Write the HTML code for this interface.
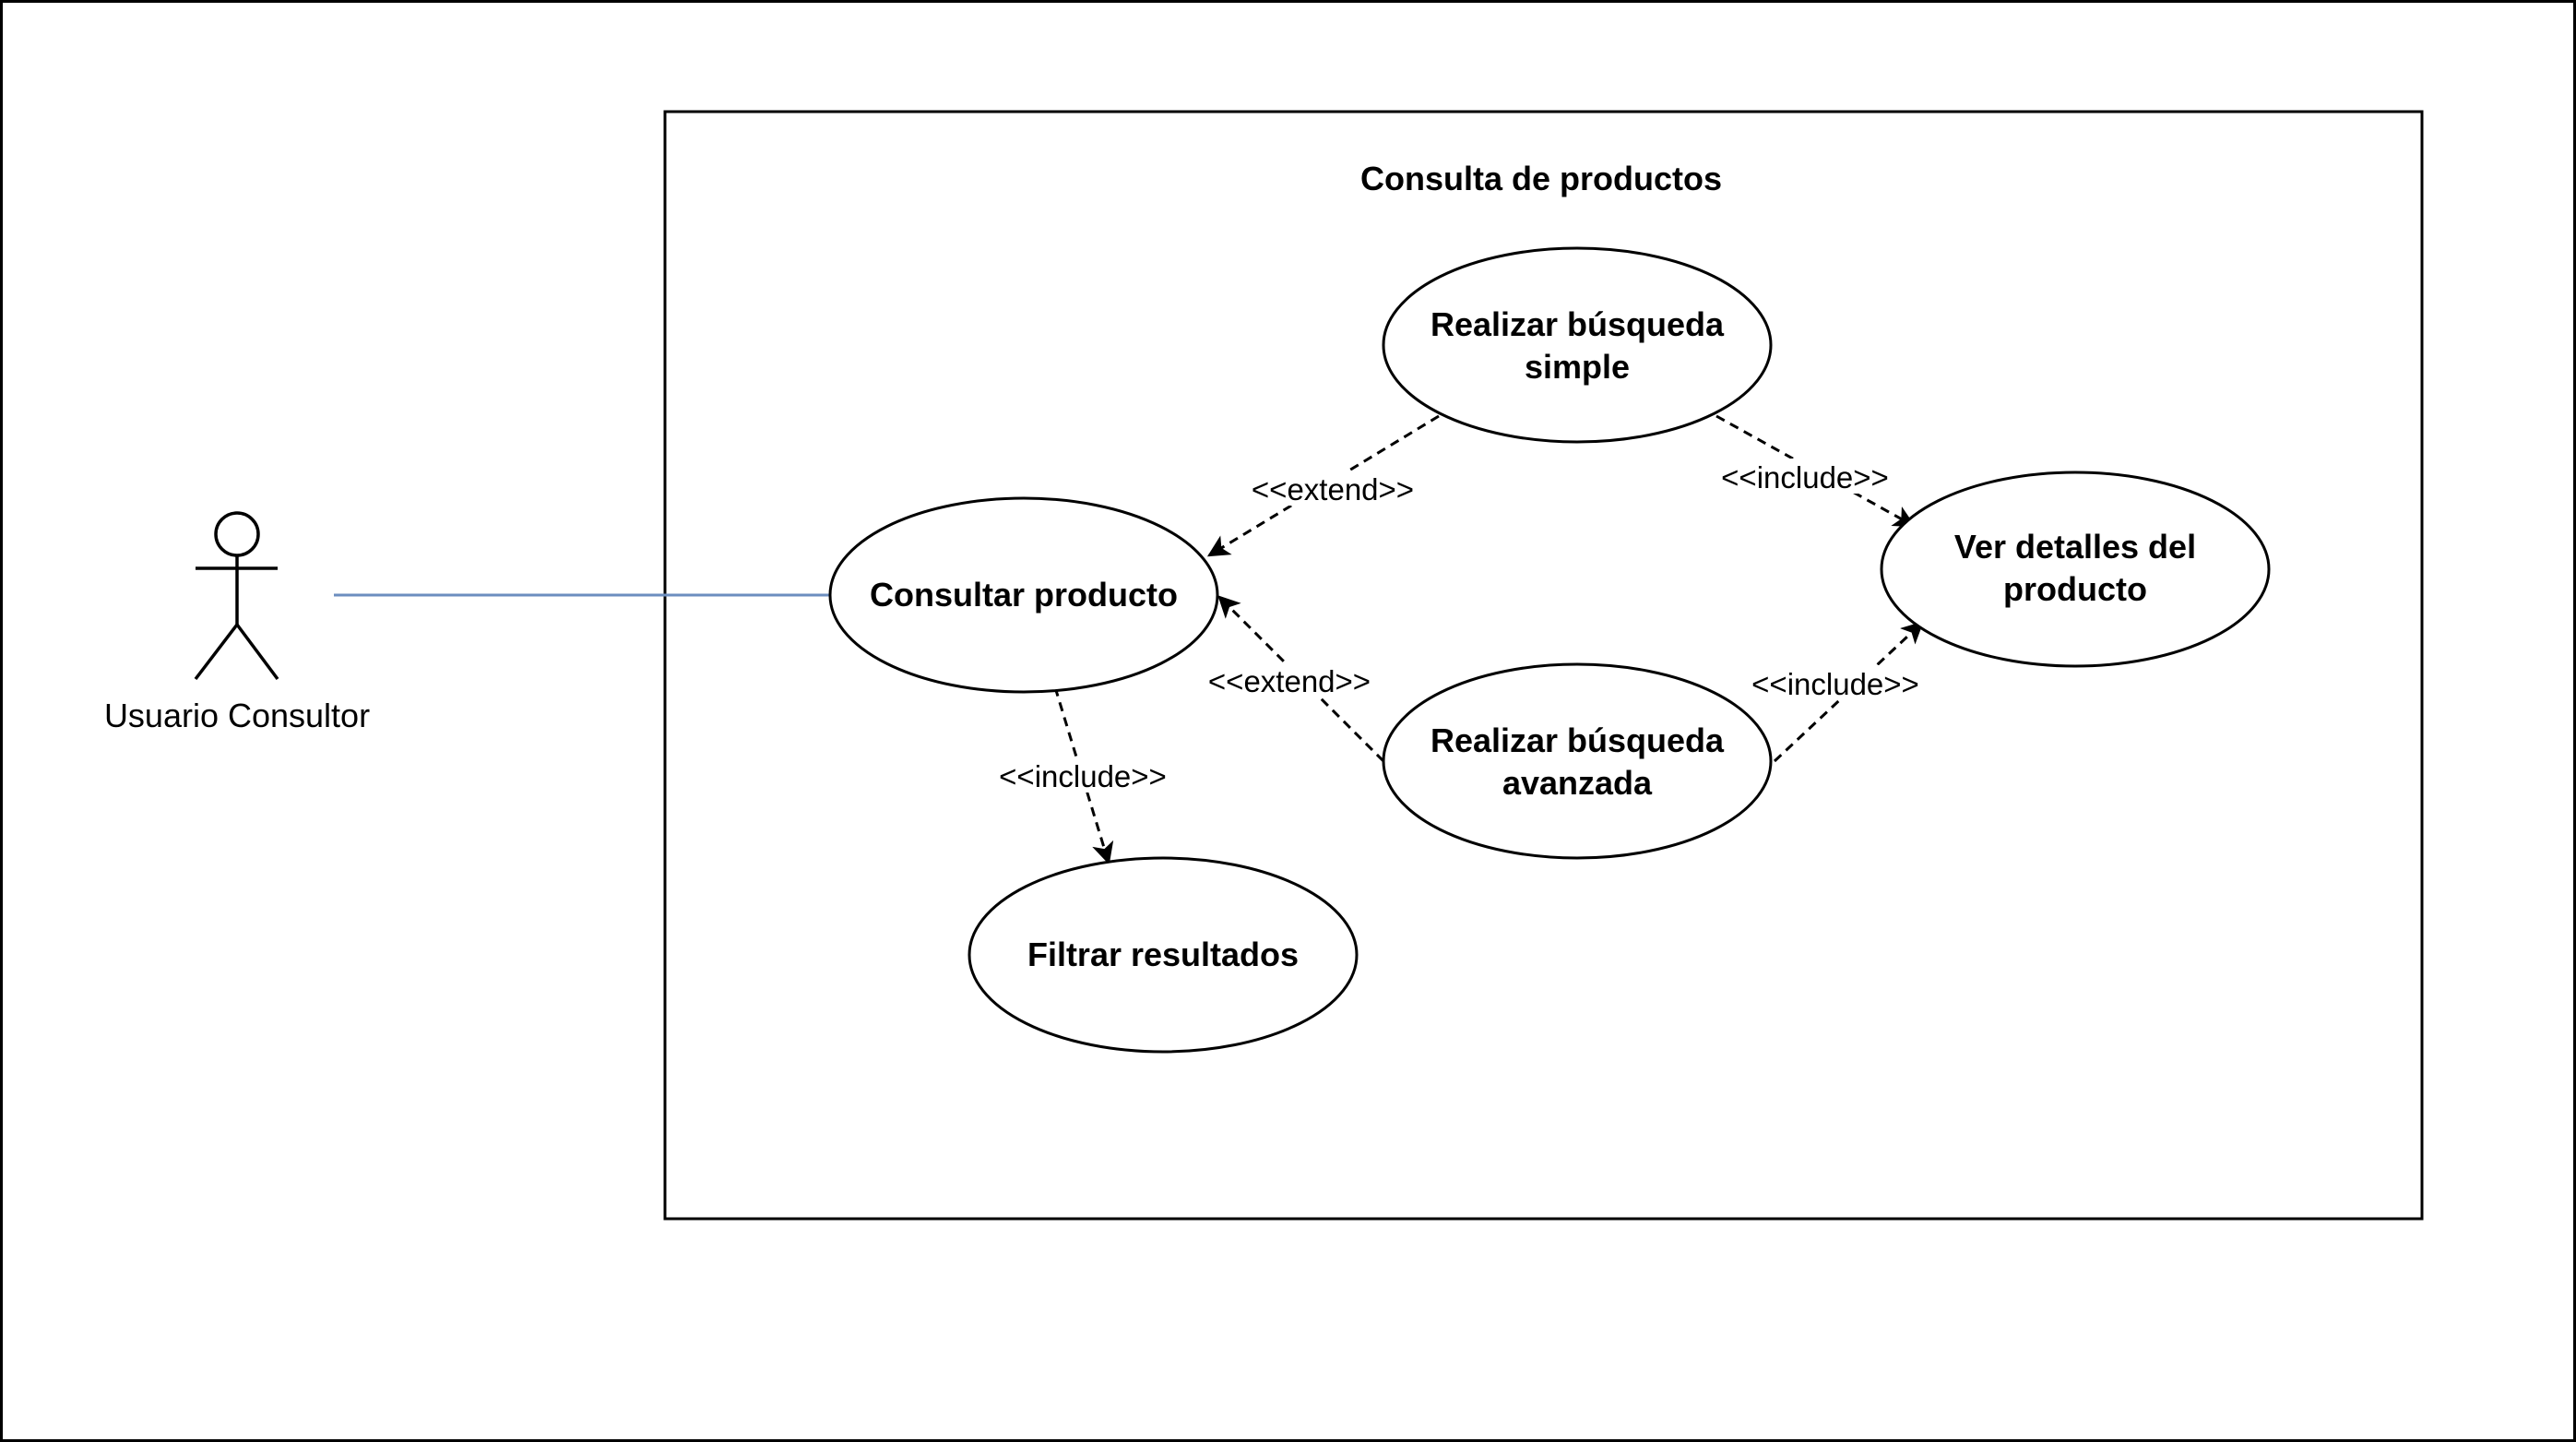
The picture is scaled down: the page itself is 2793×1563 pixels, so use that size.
<!DOCTYPE html>
<html><head><meta charset="utf-8"><style>
html,body{margin:0;padding:0;background:#fff;}
svg{display:block;}
text{font-family:"Liberation Sans",Arial,sans-serif;}
</style></head><body>
<svg width="2793" height="1563" viewBox="0 0 2793 1563" xmlns="http://www.w3.org/2000/svg">
<defs>
<marker id="ar" viewBox="0 0 20 20" refX="18" refY="10" markerWidth="24" markerHeight="24" orient="auto" markerUnits="userSpaceOnUse">
<path d="M0,0 L20,10 L0,20 L5,10 Z" fill="#000"/>
</marker>
</defs>
<rect x="1.5" y="1.5" width="2790" height="1560" fill="#fff" stroke="#000" stroke-width="3"/>
<rect x="721" y="121" width="1905" height="1200" fill="#fff" stroke="#000" stroke-width="3"/>
<text x="1671" y="206" font-size="36" font-weight="bold" text-anchor="middle">Consulta de productos</text>

<g stroke="#000" stroke-width="3.5" fill="none">
<circle cx="257" cy="579" r="23" fill="#fff"/>
<line x1="257" y1="602" x2="257" y2="677"/>
<line x1="212" y1="616" x2="301" y2="616"/>
<line x1="257" y1="677" x2="212" y2="736"/>
<line x1="257" y1="677" x2="301" y2="736"/>
</g>
<text x="257" y="788" font-size="36" text-anchor="middle">Usuario Consultor</text>
<line x1="362" y1="645" x2="900" y2="645" stroke="#6c8ebf" stroke-width="3"/>

<g stroke="#000" stroke-width="3" fill="none" stroke-dasharray="10,7">
<line x1="1560" y1="451" x2="1311" y2="602" marker-end="url(#ar)"/>
<line x1="1861" y1="451" x2="2075" y2="570" marker-end="url(#ar)"/>
<line x1="1500" y1="825" x2="1322" y2="647" marker-end="url(#ar)"/>
<line x1="1924" y1="825" x2="2084" y2="675" marker-end="url(#ar)"/>
<line x1="1144" y1="745" x2="1202" y2="935" marker-end="url(#ar)"/>
</g>

<g stroke="#000" stroke-width="3" fill="#fff">
<ellipse cx="1710" cy="374" rx="210" ry="105"/>
<ellipse cx="1110" cy="645" rx="210" ry="105"/>
<ellipse cx="2250" cy="617" rx="210" ry="105"/>
<ellipse cx="1710" cy="825" rx="210" ry="105"/>
<ellipse cx="1261" cy="1035" rx="210" ry="105"/>
</g>
<g font-size="36" font-weight="bold" text-anchor="middle">
<text x="1710" y="364">Realizar búsqueda</text>
<text x="1710" y="410">simple</text>
<text x="1110" y="657">Consultar producto</text>
<text x="2250" y="605">Ver detalles del</text>
<text x="2250" y="651">producto</text>
<text x="1710" y="815">Realizar búsqueda</text>
<text x="1710" y="861">avanzada</text>
<text x="1261" y="1047">Filtrar resultados</text>
</g>

<g font-size="33" text-anchor="middle">
<rect x="1350" y="510" width="190" height="38" fill="#fff"/>
<text x="1445" y="542">&lt;&lt;extend&gt;&gt;</text>
<rect x="1860" y="497" width="194" height="38" fill="#fff"/>
<text x="1957" y="529">&lt;&lt;include&gt;&gt;</text>
<rect x="1303" y="718" width="190" height="38" fill="#fff"/>
<text x="1398" y="750">&lt;&lt;extend&gt;&gt;</text>
<rect x="1893" y="721" width="194" height="38" fill="#fff"/>
<text x="1990" y="753">&lt;&lt;include&gt;&gt;</text>
<rect x="1077" y="821" width="194" height="38" fill="#fff"/>
<text x="1174" y="853">&lt;&lt;include&gt;&gt;</text>
</g>
</svg>
</body></html>
